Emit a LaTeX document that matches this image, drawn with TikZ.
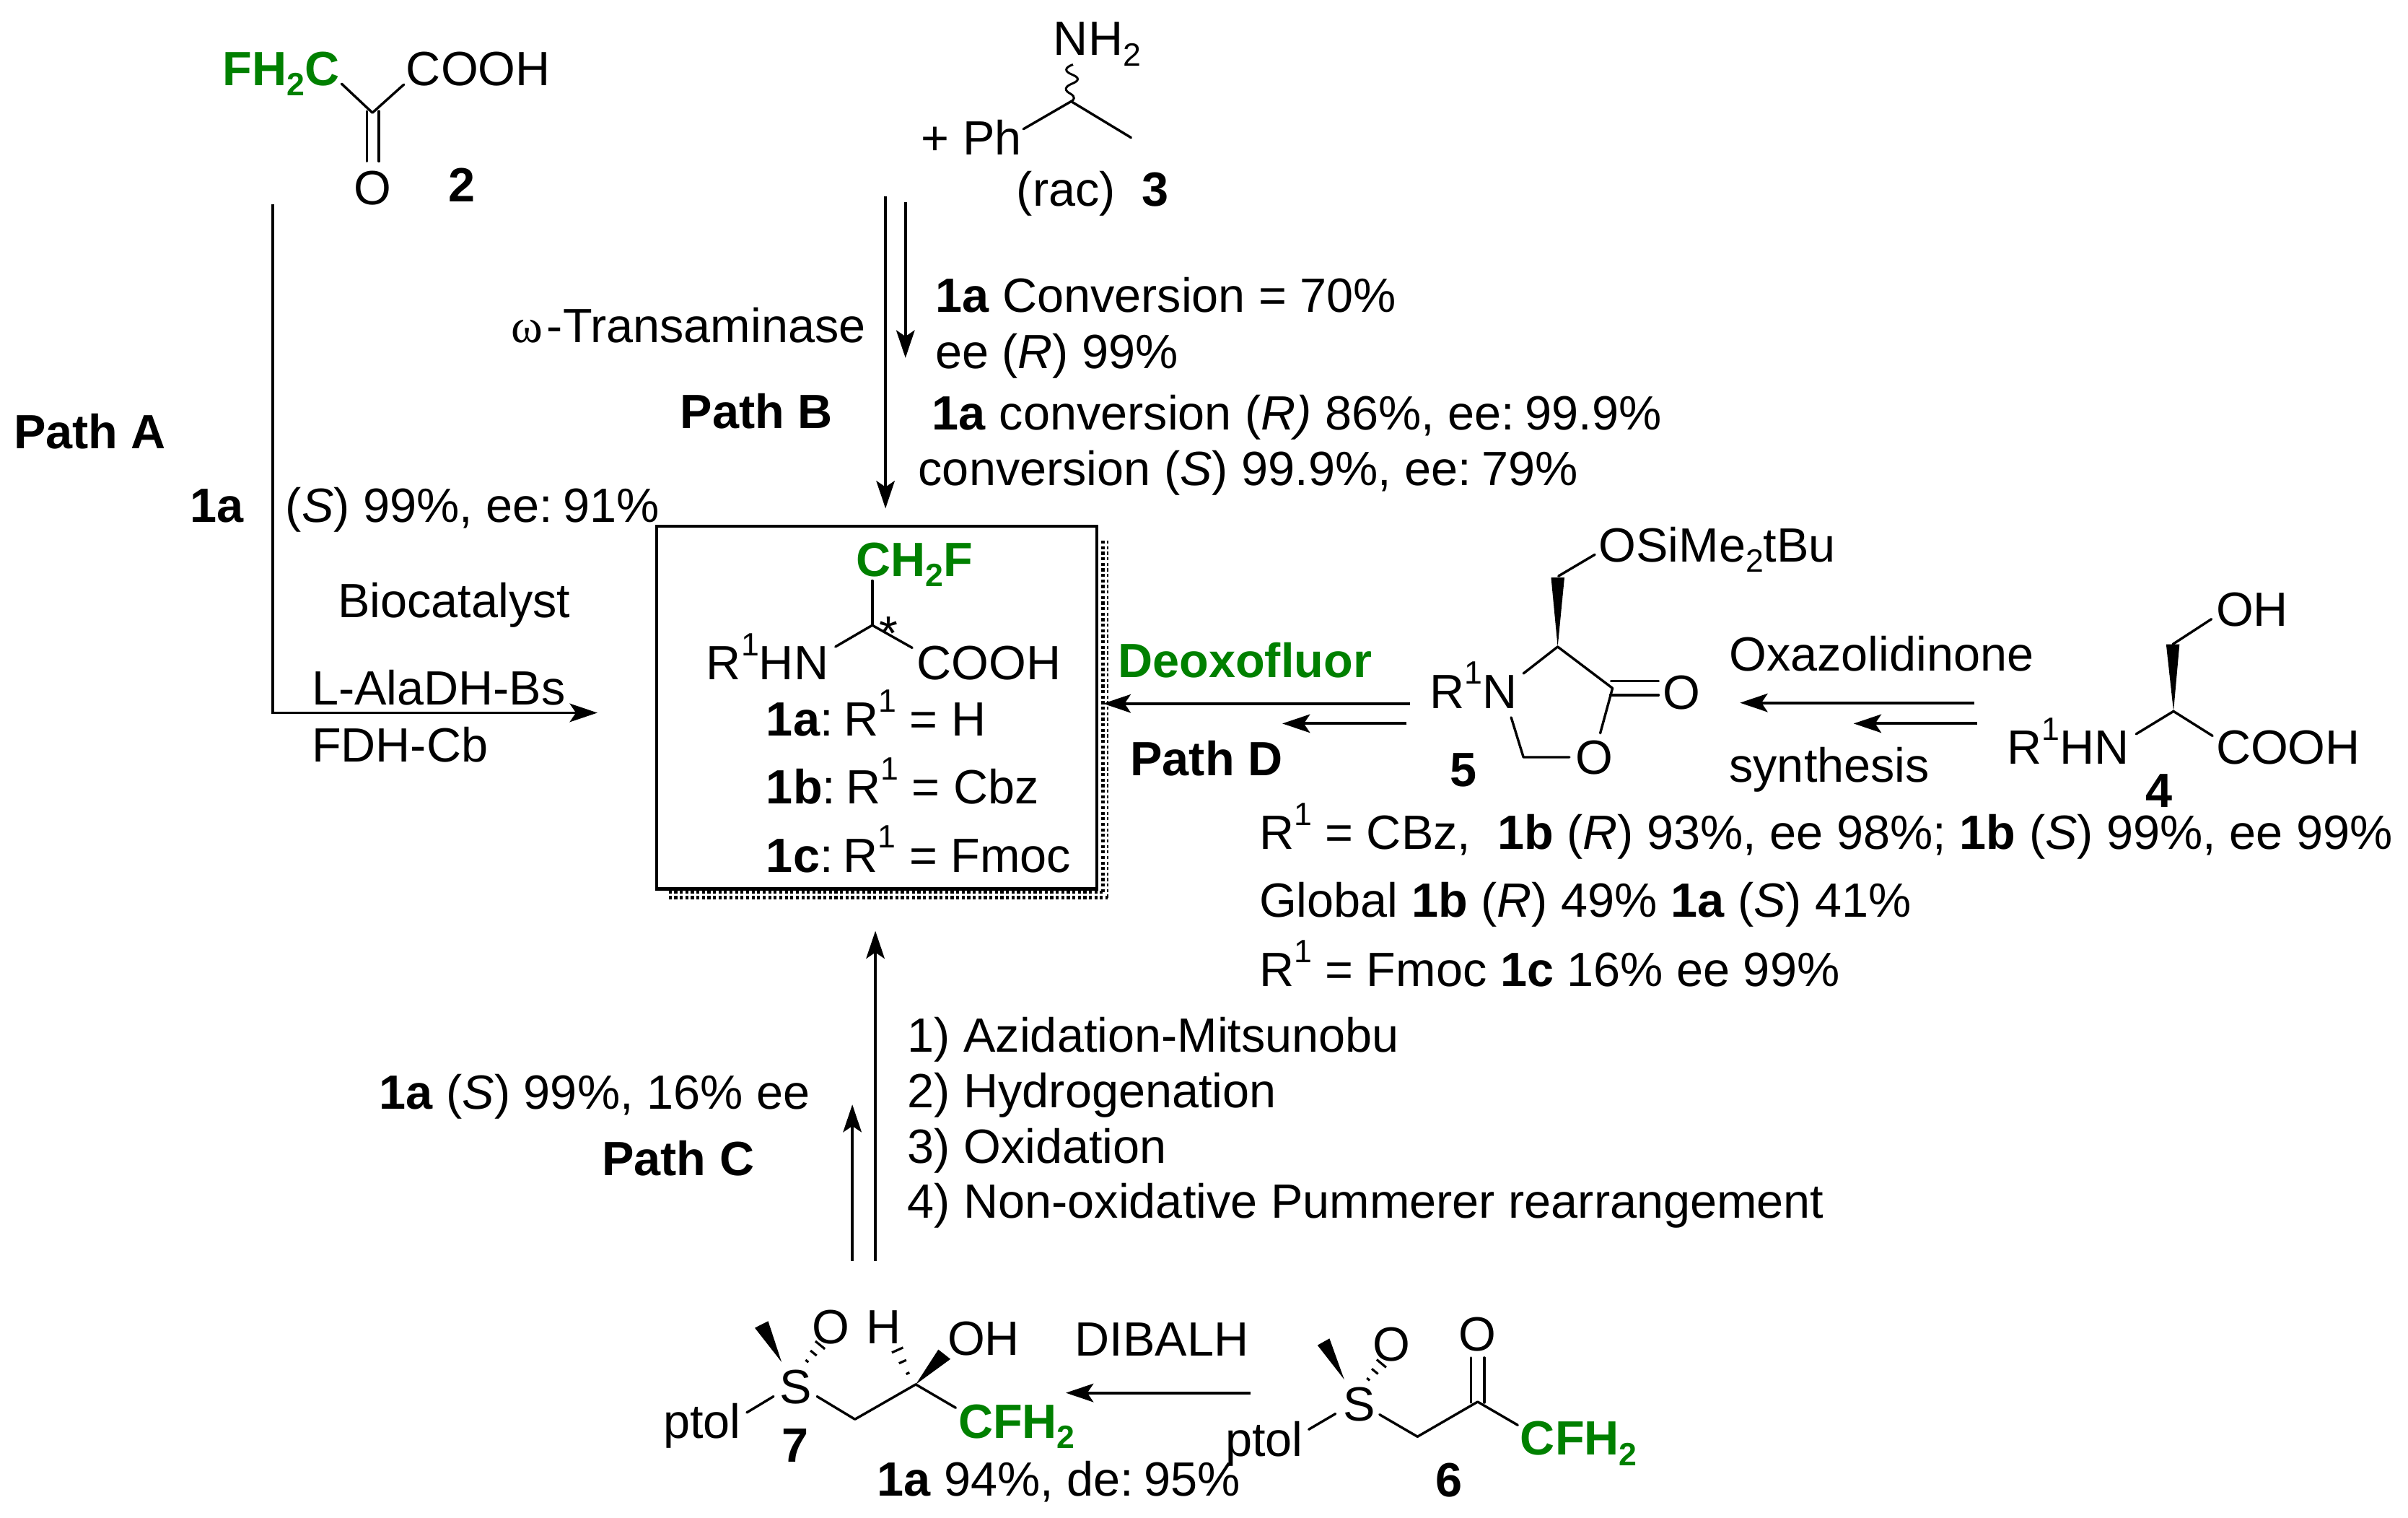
\documentclass[tikz,border=0pt]{standalone}
\usepackage{fontspec}
\setmainfont{Liberation Sans}
\newfontfamily\grk{Liberation Serif}
\usetikzlibrary{arrows.meta,calc}
\definecolor{grn}{RGB}{0,128,0}
\newcommand\dn[1]{\raisebox{-.22em}{\fontsize{21}{21}\selectfont #1}}
\newcommand\up[1]{\raisebox{.5em}[0pt][0pt]{\fontsize{21}{21}\selectfont #1}}
\newcommand\hashbond[2]{\foreach \t/\w in {.05/1.2,.5/2.6,.95/4}{\coordinate (hp) at ($#1!\t!#2$);\draw[line width=1.5pt] ($(hp)!\w pt!90:#2$) -- ($(hp)!-\w pt!90:#2$);}}
\tikzset{
 txt/.style={anchor=base west,inner sep=0pt,outer sep=0pt,font=\fontsize{31.3}{36}\selectfont},
 btxt/.style={txt,font=\fontsize{31.3}{36}\selectfont\bfseries},
 gtxt/.style={txt,text=grn,font=\fontsize{31.3}{36}\selectfont\bfseries},
 bond/.style={line width=1.6pt,line cap=round,line join=round},
 rxn/.style={line width=1.8pt,-{Stealth[length=18pt,width=12pt,inset=4pt]}},
 wedge/.style={fill=black,draw=none}
}
\begin{document}
\begin{tikzpicture}[x=1pt,y=-1pt]
\useasboundingbox (0,0) rectangle (1568,988);
% product box and shadow
\node[draw,line width=2pt,outer sep=0pt,minimum width=286.5pt,minimum height=236pt,inner sep=0pt,anchor=north west] (box) at (427.7,342.7) {};
\draw[line width=2.2pt,dash pattern=on 2pt off 1.6pt] (718.3,352) -- (718.3,581);
\draw[line width=1pt,dash pattern=on 2pt off 1.6pt] (721.4,352) -- (721.4,585);
\draw[line width=2.2pt,dash pattern=on 2pt off 1.6pt] (435.4,580.7) -- (718.3,580.7);
\draw[line width=2.2pt,dash pattern=on 2pt off 1.6pt] (435.4,584.3) -- (721.4,584.3);
% structure 2
\node[gtxt] (fhc) at (145,55.5) {FH\dn{2}C};
\node[txt] (cooh2) at (264.5,55.5) {COOH};
\node[txt] (o2) at (230.5,133) {O};
\node[btxt] (n2) at (292,131.5) {2};
\draw[bond] (222.4,54.5) -- (242.5,73.4) -- (263,55);
\draw[bond] (239,72.4) -- (239,105) (246.7,72.4) -- (246.7,105);
% structure 3
\node[txt] (nh2) at (686,36) {NH\dn{2}};
\node[txt] (ph) at (600,101) {+ Ph};
\node[txt] (rac) at (662,134) {(rac)\ \ \textbf{3}};
\draw[bond] (666.4,84) -- (697.5,66) -- (736.5,89.6);
\draw[line width=1.4pt] (698.7,42) .. controls (693,44) and (693,46.5) .. (698,48.5) .. controls (703,50.5) and (703,52.5) .. (698,54.5) .. controls (693,56.5) and (693,59) .. (697,61) .. controls (700.5,63) and (699.5,65) .. (697.5,66);
% path A
\coordinate (aS) at (177.5,133);
\coordinate (aC) at (177.5,464);
\coordinate (aE) at (389,464);
\draw[rxn] (aS) -- (aC) -- (aE);
\node[btxt] (pa) at (9,292) {Path A};
\node[btxt] (a1) at (124,340) {1a};
\node[txt] (a2) at (186,340) {(\textit{S}) 99\%, ee:\kern-2pt\ 91\%};
\node[txt] (a3) at (220,402) {Biocatalyst};
\node[txt] (a4) at (203,459) {L-AlaDH-Bs};
\node[txt] (a5) at (203,496) {FDH-Cb};
% path B
\coordinate (bS) at (576.6,128);
\coordinate (bE) at (576.6,331);
\coordinate (bS2) at (589.6,131.7);
\coordinate (bE2) at (589.6,233);
\draw[rxn] (bS) -- (bE);
\draw[rxn] (bS2) -- (bE2);
\node[txt] (b0) at (333,223) {{\grk ω}\kern2.5pt-Transaminase};
\node[btxt] (pb) at (443,279) {Path B};
\node[txt] (b1) at (609,203) {\textbf{1a} Conversion = 70\%};
\node[txt] (b2) at (609,240) {ee (\textit{R}) 99\%};
\node[txt] (b3) at (607,280) {\textbf{1a} conversion (\textit{R)} 86\%, ee:\kern-2pt\ 99.9\%};
\node[txt] (b4) at (598,316) {conversion (\textit{S}) 99.9\%, ee:\kern-2pt\ 79\%};
% product
\node[gtxt] (ch2f) at (557.6,375) {CH\dn{2}F};
\node[txt] (r1hn) at (460,442.5) {R\up{1}HN};
\node[txt] (cooh1) at (597,442.5) {COOH};
\node[txt] (star) at (572.7,423) {*};
\draw[bond] (568,378) -- (568,407);
\draw[bond] (544,421) -- (568,407) -- (594,421.7);
\node[txt] (l1) at (499,479) {\textbf{1a}:\kern-2pt\ R\up{1} = H};
\node[txt] (l2) at (499,523.3) {\textbf{1b}:\kern-2pt\ R\up{1} = Cbz};
\node[txt] (l3) at (499,567.7) {\textbf{1c}:\kern-2pt\ R\up{1} = Fmoc};
% path D
\coordinate (dS) at (918,458);
\coordinate (dE) at (718.3,458);
\coordinate (dS2) at (916,471);
\coordinate (dE2) at (835,471);
\draw[rxn] (dS) -- (dE);
\draw[rxn] (dS2) -- (dE2);
\node[gtxt] (deo) at (728,441) {Deoxofluor};
\node[btxt] (pd) at (736,505) {Path D};
% structure 5
\node[txt] (osi) at (1041,365.7) {OSiMe\dn{2}tBu};
\node[txt] (r1n) at (931,461) {R\up{1}N};
\node[txt] (o5a) at (1083,461.5) {O};
\node[txt] (o5b) at (1026,504) {O};
\node[btxt] (n5) at (944,512) {5};
\draw[bond] (1038.5,361) -- (1014.8,375);
\fill[wedge] (1014.3,421) -- (1010,376) -- (1018.7,376) -- cycle;
\draw[bond] (992,438.4) -- (1014.3,421) -- (1050,448) -- (1042,477.3);
\draw[bond] (984,467) -- (992,492.9) -- (1022,492.9);
\draw[bond] (1049,443.2) -- (1080,443.2) (1048.5,452.4) -- (1080,452.4);
% oxazolidinone arrows
\coordinate (oS) at (1285.7,457.5);
\coordinate (oE) at (1133,457.5);
\coordinate (oS2) at (1287.4,471);
\coordinate (oE2) at (1207,471);
\draw[rxn] (oS) -- (oE);
\draw[rxn] (oS2) -- (oE2);
\node[txt] (ox1) at (1126,436.8) {Oxazolidinone};
\node[txt] (ox2) at (1126,509) {synthesis};
% structure 4
\node[txt] (oh4) at (1443,407.5) {OH};
\node[txt] (r1hn4) at (1307,497.5) {R\up{1}HN};
\node[txt] (cooh4) at (1443,497.5) {COOH};
\node[btxt] (n4) at (1397,525.7) {4};
\draw[bond] (1440,403) -- (1414.8,419.4);
\fill[wedge] (1415.3,463) -- (1410.5,419.4) -- (1419.2,419.4) -- cycle;
\draw[bond] (1391,477.8) -- (1415.3,463) -- (1440.7,479);
% conditions
\node[txt] (c1) at (820,553) {R\up{1} = CBz,\ \ \textbf{1b} (\textit{R}) 93\%, ee 98\%; \textbf{1b} (\textit{S}) 99\%, ee 99\%};
\node[txt] (c2) at (820,597) {Global \textbf{1b} (\textit{R}) 49\% \textbf{1a} (\textit{S}) 41\%};
\node[txt] (c3) at (820,642) {R\up{1} = Fmoc \textbf{1c} 16\% ee 99\%};
% path C
\coordinate (cS) at (570,821);
\coordinate (cE) at (570,606);
\coordinate (cS2) at (555,821);
\coordinate (cE2) at (555,719);
\draw[rxn] (cS) -- (cE);
\draw[rxn] (cS2) -- (cE2);
\node[txt] (s1) at (591,685) {1) Azidation-Mitsunobu};
\node[txt] (s2) at (591,721) {2) Hydrogenation};
\node[txt] (s3) at (591,757) {3) Oxidation};
\node[txt] (s4) at (591,793) {4) Non-oxidative Pummerer rearrangement};
\node[txt] (c0) at (247,722) {\textbf{1a} (\textit{S}) 99\%, 16\% ee};
\node[btxt] (pc) at (392,765) {Path C};
% structure 7
\node[txt] (s7) at (507.5,913.7) {S};
\node[txt] (pt7) at (432,936.4) {ptol};
\node[txt] (o7) at (529,874.6) {O};
\node[txt] (h7) at (564,874.6) {H};
\node[txt] (oh7) at (617,882) {OH};
\node[gtxt] (cf7) at (624,936) {CFH\dn{2}};
\node[btxt] (n7) at (509,951.6) {7};
\node[txt] (y7) at (571,974) {\textbf{1a} 94\%, de:\kern-2pt\ 95\%};
\draw[bond] (486.3,919.5) -- (503.7,909);
\fill[wedge] (508.9,886.6) -- (491.5,864.4) -- (500.2,860) -- cycle;
\hashbond{(525,886.6)}{(534.5,875)}
\draw[bond] (532,909) -- (556.7,923.9) -- (596.3,901.2) -- (622.3,916.4);
\fill[wedge] (596.3,901.2) -- (611,878.5) -- (618.9,884.7) -- cycle;
\hashbond{(591.5,894.8)}{(584,878)}
% arrow 6 to 7
\coordinate (eS) at (814.4,906.7);
\coordinate (eE) at (694,906.7);
\draw[rxn] (eS) -- (eE);
\node[txt] (dib) at (700,882.7) {DIBALH};
% structure 6
\node[txt] (s6) at (874.5,925) {S};
\node[txt] (pt6) at (798,948) {ptol};
\node[txt] (o6a) at (894,885.8) {O};
\node[txt] (o6b) at (950,879.6) {O};
\node[gtxt] (cf6) at (990,947.2) {CFH\dn{2}};
\node[btxt] (n6) at (935,974.4) {6};
\draw[bond] (852.2,930.5) -- (869.6,920.3);
\fill[wedge] (875.3,898) -- (857.9,875.7) -- (865.7,871.3) -- cycle;
\hashbond{(890.5,898.4)}{(900,887)}
\draw[bond] (898.3,920.8) -- (923,935.2) -- (962.2,912.5) -- (988.3,927.7);
\draw[bond] (957.8,913) -- (957.8,883.8) (966.5,913) -- (966.5,883.8);
\end{tikzpicture}
\end{document}
